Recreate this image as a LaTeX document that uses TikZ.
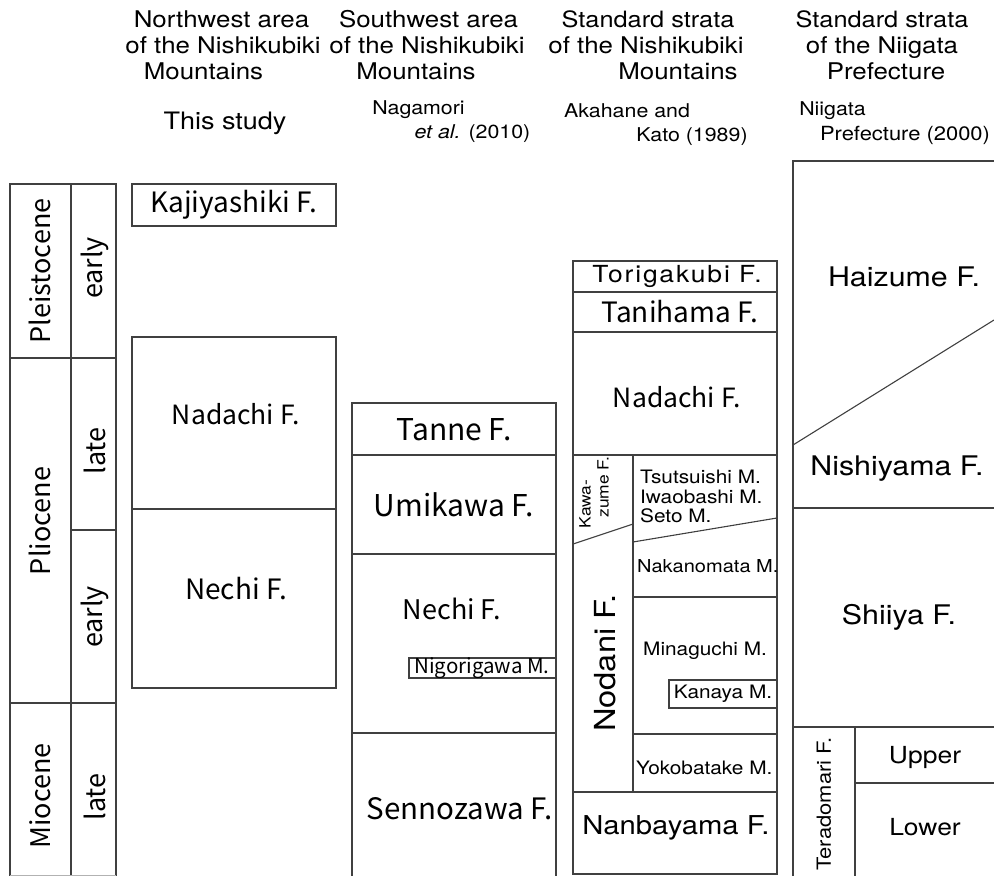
\documentclass[tikz,border=0pt]{standalone}
\usepackage{fontspec}
\newfontfamily\hira[FakeStretch=1.125]{TeX Gyre Heros}
\newfontfamily\myr{Noto Sans CJK JP}
\newcommand\setfs[1]{\fontsize{#1}{#1}\selectfont}
\begin{document}
\begin{tikzpicture}[x=1pt,y=-1pt,
  bline/.style={draw=black!75,line width=1.1pt},
  hf/.style={inner sep=0pt,font=\hira\setfs{#1}},
  mf/.style={inner sep=0pt,font=\myr\setfs{#1}},
  hdr/.style={inner sep=0pt,anchor=base,font=\hira\setfs{#1}},
]
\path[use as bounding box] (0,0) rectangle (994,876);

% ---------- header ----------
\node[hdr=23] (h1a) at (221.5,27) {Northwest area};
\node[hdr=23] (h1b) at (223,53) {of the Nishikubiki};
\node[hdr=23] (h1c) at (203.5,79) {Mountains};
\node[hdr=24] (h1d) at (225,129) {This study};

\node[hdr=23] (h2a) at (428.5,27) {Southwest area};
\node[hdr=23] (h2b) at (427,53) {of the Nishikubiki};
\node[hdr=23] (h2c) at (416,79) {Mountains};
\node[hdr=19] (h2d) at (418.5,114) {Nagamori};
\node[hdr=19] (h2e) at (472.5,138) {\itshape et al.\upshape{} (2010)};

\node[hdr=22.5] (h3a) at (648,27) {Standard strata};
\node[hdr=23] (h3b) at (646,53) {of the Nishikubiki};
\node[hdr=23] (h3c) at (678,79) {Mountains};
\node[hdr=19] (h3d) at (627,117) {Akahane and};
\node[hdr=19] (h3e) at (692,141) {Kato (1989)};

\node[hdr=22.5] (h4a) at (882,27) {Standard strata};
\node[hdr=23] (h4b) at (882,53) {of the Niigata};
\node[hdr=23] (h4c) at (886,79) {Prefecture};
\node[hdr=19] (h4d) at (832.5,115) {Niigata};
\node[hdr=19.5] (h4e) at (905,140) {Prefecture (2000)};

% ---------- age column ----------
\draw[bline] (10,876) -- (10,184) -- (116,184) -- (116,876);
\draw[bline] (71,184) -- (71,876);
\draw[bline] (10,358) -- (116,358);
\draw[bline] (71,530) -- (116,530);
\draw[bline] (10,703) -- (116,703);
\draw[draw=black!30,line width=1pt] (10,875) -- (116,875);
\node[mf=27,rotate=90] (pleis) at (40,271) {Pleistocene};
\node[mf=27,rotate=90] (e1) at (95,268) {early};
\node[mf=27,rotate=90] (l1) at (95,451) {late};
\node[mf=27,rotate=90] (plio) at (40,521) {Pliocene};
\node[mf=27,rotate=90] (e2) at (95,617) {early};
\node[mf=27,rotate=90] (mio) at (40,796) {Miocene};
\node[mf=27,rotate=90] (l2) at (95,797) {late};

% ---------- column 1 ----------
\draw[bline] (132,184) rectangle (336,226);
\draw[bline] (132,337) rectangle (336,688);
\draw[bline] (132,509) -- (336,509);
\node[mf=28] (kaji) at (234,205) {Kajiyashiki F.};
\node[mf=26.5] (nad1) at (236,414) {Nadachi F.};
\node[mf=28] (nec1) at (236,589) {Nechi F.};

% ---------- column 2 ----------
\draw[bline] (352,876) -- (352,403) -- (556,403) -- (556,876);
\draw[bline] (352,455) -- (556,455);
\draw[bline] (352,554) -- (556,554);
\draw[bline] (352,733) -- (556,733);
\draw[bline] (409,658) rectangle (556,678);
\node[mf=30] (tanne) at (454,430) {Tanne F.};
\node[mf=30] (umi) at (454,505) {Umikawa F.};
\node[mf=27] (nec2) at (452,609) {Nechi F.};
\node[mf=20.5] (nigo) at (482,668) {Nigorigawa M.};
\node[mf=29.5] (senno) at (460,809) {Sennozawa F.};

% ---------- column 3 ----------
\draw[bline] (573,261) rectangle (777,874);
\draw[bline] (573,292) -- (777,292);
\draw[bline] (573,332) -- (777,332);
\draw[bline] (573,455) -- (777,455);
\draw[bline] (573,792) -- (777,792);
\draw[bline] (633,455) -- (633,792);
\draw[bline] (573,544) -- (633,524);
\draw[bline] (633,542) -- (777,518);
\draw[bline] (633,597) -- (777,597);
\draw[bline] (633,734) -- (777,734);
\draw[bline] (669,680) rectangle (777,708);
\node[hf=23.5] (tori) at (677,276) {\addfontfeature{LetterSpace=8}Torigakubi F.};
\node[mf=28] (tani) at (680,312) {Tanihama F.};
\node[mf=26.5] (nad3) at (677,397) {Nadachi F.};
\node[hf=15.5,rotate=90] (kawa1) at (585,504) {Kawa-};
\node[hf=15.5,rotate=90] (kawa2) at (603,487) {zume F.};
\node[hf=18.5,anchor=base west] (tsu) at (640,483) {Tsutsuishi M.};
\node[hf=18.5,anchor=base west] (iwa) at (640,503) {Iwaobashi M.};
\node[hf=18.5,anchor=base west] (seto) at (640,522) {Seto M.};
\node[hf=17.8,anchor=base west] (naka) at (637,572) {Nakanomata M.};
\node[hf=18.5,anchor=base west] (mina) at (643,655) {Minaguchi M.};
\node[hf=18.5] (kana) at (723,694) {Kanaya M.};
\node[hf=18.5,anchor=base west] (yoko) at (636,774) {Yokobatake M.};
\node[hf=29,rotate=90] (noda) at (605,663) {Nodani F.};
\node[hf=26] (nanb) at (676,828) {Nanbayama F.};

% ---------- column 4 ----------
\draw[bline] (793,876) -- (793,161) -- (994,161);
\draw[bline] (793,445) -- (994,320);
\draw[bline] (793,508) -- (994,508);
\draw[bline] (793,727) -- (994,727);
\draw[bline] (855,727) -- (855,876);
\draw[bline] (855,783) -- (994,783);
\node[hf=27] (haiz) at (904,277) {Haizume F.};
\node[hf=27] (nish) at (897,469) {Nishiyama F.};
\node[hf=27] (shii) at (899,617) {Shiiya F.};
\node[hf=19.5,rotate=90] (tera) at (824,804) {Teradomari F.};
\node[hf=23.5] (upp) at (925,757) {Upper};
\node[hf=23.5] (low) at (925,827) {Lower};
\end{tikzpicture}
\end{document}
